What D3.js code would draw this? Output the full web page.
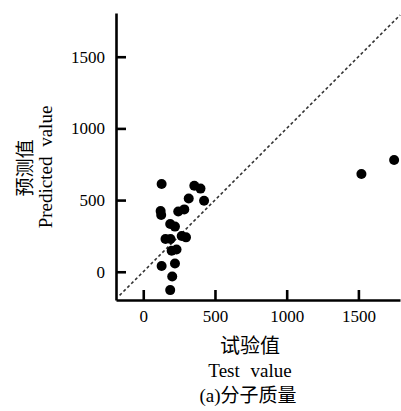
<!DOCTYPE html>
<html><head><meta charset="utf-8">
<script src="https://cdn.jsdelivr.net/npm/d3@7/dist/d3.min.js"></script>
<style>body{margin:0;background:#fff;} svg{display:block;} .serif{font-family:'Liberation Serif','DejaVu Serif',serif;} .cjk{font-family:'Noto Sans CJK SC',sans-serif;}</style>
</head><body>
<svg id="c" width="401" height="411"></svg>
<script>
const testValues = [128,356,399,317,424,121,125,244,286,188,221,155,190,268,298,198,232,221,128,202,188,1521,1749];
const predictedValues = [612,600,580,511,495,423,396,420,435,333,315,228,228,249,240,147,155,57,40,-33,-128,682,779];
const xTicks = [0,500,1000,1500];
const yTicks = [0,500,1000,1500];
const xDomain = [-190,1790];
const yDomain = [-197,1805];
const refLine = [-165,1791];

const svg = d3.select("#c");
const x = d3.scaleLinear().domain(xDomain).range([116,400]);
const y = d3.scaleLinear().domain(yDomain).range([300,13]);

svg.append("line")
  .attr("x1",x(refLine[0])).attr("y1",y(refLine[0]))
  .attr("x2",x(refLine[1])).attr("y2",y(refLine[1]))
  .attr("stroke","#333").attr("stroke-width",1.6).attr("stroke-dasharray","3,2.5");

svg.append("g").selectAll("circle").data(testValues).join("circle")
  .attr("cx",(d)=>x(d)).attr("cy",(d,i)=>y(predictedValues[i])).attr("r",5).attr("fill","#000");

const xa = svg.append("g").attr("transform","translate(0,300)")
  .call(d3.axisBottom(x).tickValues(xTicks).tickSizeInner(-10).tickSizeOuter(0).tickPadding(10).tickFormat(d3.format("d")));
const ya = svg.append("g").attr("transform","translate(116,0)")
  .call(d3.axisLeft(y).tickValues(yTicks).tickSizeInner(-10).tickSizeOuter(0).tickPadding(11).tickFormat(d3.format("d")));
[xa,ya].forEach(a=>{
  a.attr("font-family",null).attr("font-size",null);
  a.select(".domain").attr("stroke","#000").attr("stroke-width",2.6);
  a.selectAll(".tick line").attr("stroke","#000").attr("stroke-width",2.6);
  a.selectAll("text").attr("class","serif").style("font-size","17px").attr("fill","#000");
});

svg.append("text").attr("class","cjk").attr("x",250).attr("y",353).attr("text-anchor","middle")
  .style("font-size","20px").text("试验值");
svg.append("text").attr("class","serif").attr("x",250).attr("y",377).attr("text-anchor","middle")
  .style("font-size","19px").attr("word-spacing",6).text("Test value");
const cap = svg.append("text").attr("x",248).attr("y",402).attr("text-anchor","middle").style("font-size","19px");
cap.append("tspan").attr("class","serif").text("(a)");
cap.append("tspan").attr("class","cjk").text("分子质量");

svg.append("text").attr("class","cjk").attr("transform","translate(32,168) rotate(-90)").attr("text-anchor","middle")
  .style("font-size","19px").text("预测值");
svg.append("text").attr("class","serif").attr("transform","translate(52,167) rotate(-90)").attr("text-anchor","middle")
  .style("font-size","19px").attr("word-spacing",5).text("Predicted value");
</script>
</body></html>
